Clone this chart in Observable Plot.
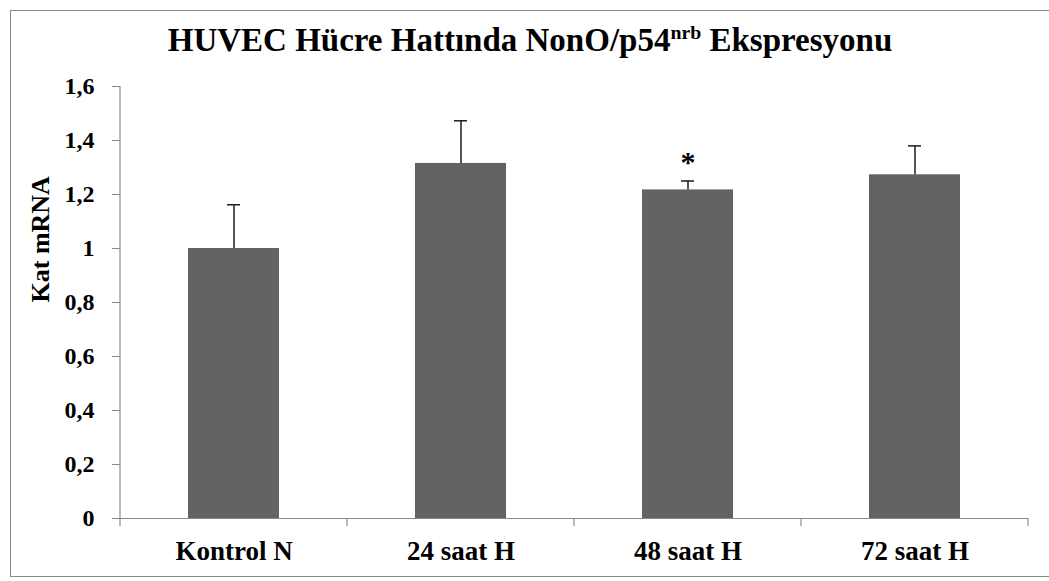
<!DOCTYPE html>
<html>
<head>
<meta charset="utf-8">
<script src="https://cdn.jsdelivr.net/npm/d3@7"></script>
<script src="https://cdn.jsdelivr.net/npm/@observablehq/plot@0.6"></script>
<style>
  html, body { margin: 0; background: #fff; overflow: hidden; }
  #frame { position: absolute; left: 10px; top: 10px; width: 1039px; height: 567px; border: 1px solid #8a8a8a; border-right: none; box-sizing: border-box; overflow: hidden; }
  #title { width: 1038px; height: 59px; box-sizing: border-box; padding-top: 11px; text-align: center; font-family: "Liberation Serif", serif; font-weight: bold; font-size: 33px; line-height: normal; color: #000; }
  #title sup { font-size: 0.6em; line-height: 0; vertical-align: 0.6em; }
  svg { display: block; }
  svg text { font-family: "Liberation Serif", serif; }
</style>
</head>
<body>
<div id="frame">
  <div id="title">HUVEC Hücre Hattında NonO/p54<sup>nrb</sup> Ekspresyonu</div>
  <div id="chart"></div>
</div>
<script>
const categories = ["Kontrol N", "24 saat H", "48 saat H", "72 saat H"];
const means = [1.0, 1.315, 1.217, 1.273];
const errors = [0.162, 0.158, 0.033, 0.107];
const significant = [false, false, true, false];
const yTicks = [0, 0.2, 0.4, 0.6, 0.8, 1.0, 1.2, 1.4, 1.6];
const yLabel = "Kat mRNA";

const rows = categories.map((c, i) => ({cat: c, mean: means[i], err: errors[i], top: means[i] + errors[i], sig: significant[i]}));
const sigRows = rows.filter(d => d.sig);

const axisColor = "#8a8a8a";
const barColor = "#636363";
const errColor = "#1e1e1e";
const serif = "Liberation Serif";

// custom mark: y axis line and category boundary ticks, drawn from the plot's scales
function axisLines(index, scales, values, dimensions) {
  const g = d3.create("svg:g");
  const x = scales.x, y = scales.y;
  const step = x(categories[1]) - x(categories[0]);
  const x0 = x(categories[0]);
  const yb = y(yTicks[0]);
  g.append("line").attr("x1", x0).attr("x2", x0).attr("y1", y(yTicks[yTicks.length - 1])).attr("y2", yb)
    .attr("stroke", axisColor).attr("stroke-width", 1.2);
  const bounds = categories.map(c => x(c)).concat([x(categories[categories.length - 1]) + step]);
  bounds.forEach(bx => {
    g.append("line").attr("x1", bx).attr("x2", bx).attr("y1", yb).attr("y2", yb + 8)
      .attr("stroke", axisColor).attr("stroke-width", 1.2);
  });
  return g.node();
}

const chart = Plot.plot({
  width: 1038,
  height: 506,
  marginLeft: 109,
  marginRight: 21,
  marginTop: 16,
  marginBottom: 58,
  style: {fontFamily: serif, fontWeight: "bold", color: "#000", background: "#fff"},
  x: {type: "band", domain: categories, paddingInner: 0, paddingOuter: 0, label: null},
  y: {domain: [0, 1.6], label: null},
  marks: [
    Plot.barY(rows, {x: "cat", y: "mean", fill: barColor, insetLeft: 68, insetRight: 68}),
    Plot.ruleX(rows, {x: "cat", y1: "mean", y2: "top", stroke: errColor, strokeWidth: 1.5}),
    Plot.tickY(rows, {x: "cat", y: "top", stroke: errColor, strokeWidth: 1.5, insetLeft: 107, insetRight: 107}),
    Plot.text(sigRows, {x: "cat", y: "top", text: () => "*", dy: -19, fontSize: 30, fontFamily: serif, fontWeight: "bold", fill: "#000"}),
    Plot.ruleY([0], {stroke: axisColor, strokeWidth: 1.2}),
    Plot.axisY({ticks: yTicks, tickFormat: d => String(d).replace(".", ","), tickSize: 8, tickPadding: 18,
      fontSize: 24, fontFamily: serif, fontWeight: "bold", stroke: axisColor, fill: "#000", label: null}),
    Plot.axisX({tickSize: 0, tickPadding: 22, fontSize: 27, fontFamily: serif, fontWeight: "bold", fill: "#000", label: null}),
    Plot.text([yLabel], {frameAnchor: "left", rotate: -90, dx: -80, fontSize: 26, fontFamily: serif, fontWeight: "bold", fill: "#000"}),
    axisLines
  ]
});
document.getElementById("chart").appendChild(chart);
</script>
</body>
</html>
